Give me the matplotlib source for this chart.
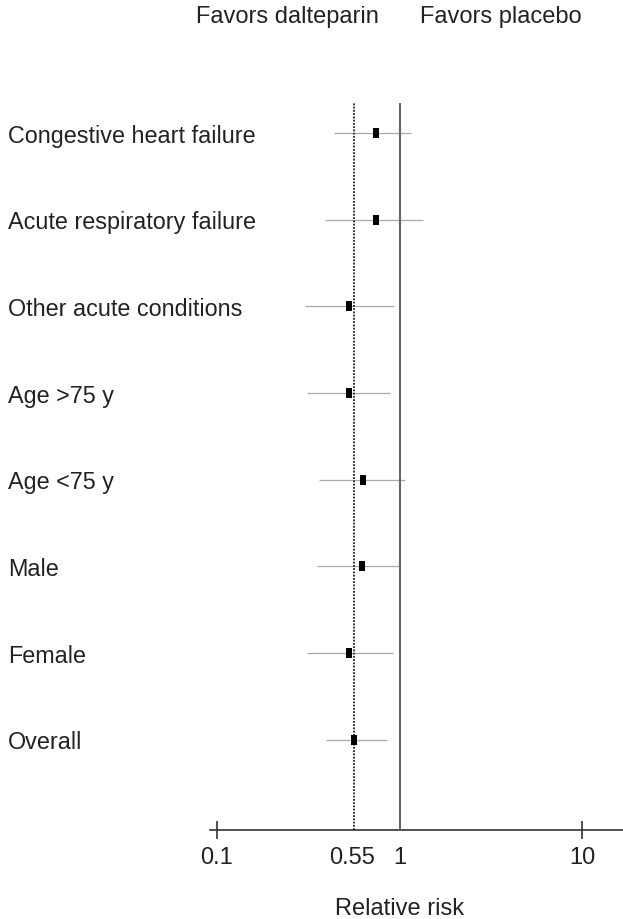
import numpy as np
import matplotlib.pyplot as plt

plt.rcParams['font.family'] = ['Liberation Sans', 'DejaVu Sans']

# subgroup relative risks with 95% CI
groups = ['Congestive heart failure', 'Acute respiratory failure',
          'Other acute conditions', 'Age >75 y', 'Age <75 y',
          'Male', 'Female', 'Overall']
rr = [0.74, 0.74, 0.53, 0.53, 0.635, 0.62, 0.53, 0.565]
ci_low = [0.44, 0.39, 0.305, 0.313, 0.364, 0.355, 0.313, 0.398]
ci_high = [1.16, 1.35, 0.927, 0.882, 1.065, 1.0, 0.915, 0.849]
overall_rr = 0.56

tick_vals = [0.1, 0.55, 1, 10]
tick_labels = ['0.1', '0.55', '1', '10']

W, H = 623, 919
fig = plt.figure(figsize=(W / 100, H / 100), dpi=100)
# axes from x=210px to right edge, y from 103px to 830px
ax = fig.add_axes([210 / W, 1 - 830 / H, (W - 210) / W, (830 - 103) / H])

ypos = np.arange(len(groups))
ax.set_xscale('log')
ax.set_xlim(10 ** -1.0367, 10 ** 1.222)
ax.set_ylim(8.04, -0.346)

ax.hlines(ypos, ci_low, ci_high, color='#aaaaaa', lw=0.9, zorder=2)
box = [(-0.28, -0.5), (0.28, -0.5), (0.28, 0.5), (-0.28, 0.5), (-0.28, -0.5)]
ax.plot(rr, ypos, ls='none', marker=box, ms=7, mew=0, color='black', zorder=4)

ax.axvline(1, color='#666666', lw=1.5, zorder=3)
ax.axvline(overall_rr, color='#222222', lw=1.3, ls=(0, (1, 0.8)), zorder=3)

for s in ['top', 'right', 'left']:
    ax.spines[s].set_visible(False)
ax.spines['bottom'].set_color('#333333')
ax.spines['bottom'].set_linewidth(1.2)

ax.set_yticks([])
ax.xaxis.set_minor_locator(plt.NullLocator())
ax.set_xticks(tick_vals)
ax.set_xticklabels(tick_labels)
ax.tick_params(axis='x', direction='inout', length=13, width=1.2,
               color='#333333', labelsize=17, labelcolor='#222222', pad=6)
for i in (1, 2):
    ax.xaxis.get_major_ticks()[i].tick1line.set_visible(False)

for y, g in zip(ypos, groups):
    ax.text(8 / W, 1 - (136 + 86.7 * y) / H, g, transform=fig.transFigure,
            ha='left', va='center', fontsize=16.8, color='#222222')

fig.text(400 / W, 1 - 909 / H, 'Relative risk', ha='center', va='center',
         fontsize=17, color='#222222')
fig.text(287 / W, 1 - 17 / H, 'Favors dalteparin', ha='center', va='center',
         fontsize=17, color='#222222')
fig.text(501 / W, 1 - 17 / H, 'Favors placebo', ha='center', va='center',
         fontsize=17, color='#222222')

fig.savefig('out.png', dpi=100)
